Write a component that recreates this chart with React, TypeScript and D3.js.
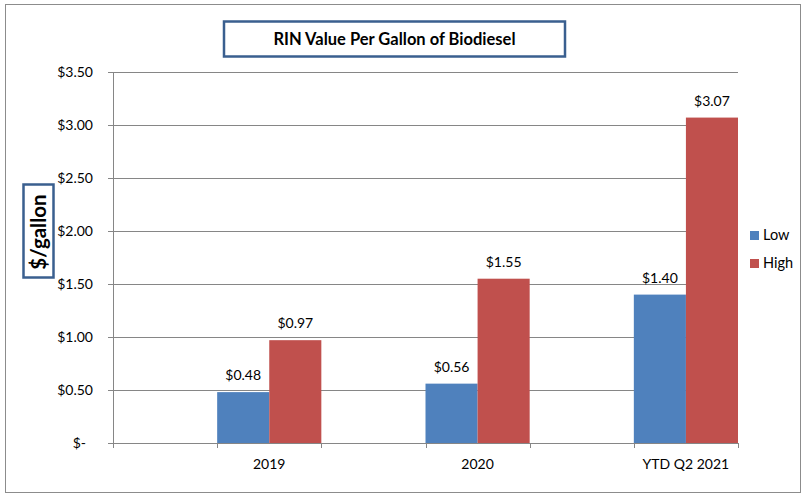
import React from "react";
import * as d3 from "d3";

const categories = ["", "2019", "", "2020", "", "YTD Q2 2021"];
const lowValues: (number | null)[] = [null, 0.48, null, 0.56, null, 1.4];
const highValues: (number | null)[] = [null, 0.97, null, 1.55, null, 3.07];
const yTicks = [0, 0.5, 1, 1.5, 2, 2.5, 3, 3.5];
const seriesNames = ["Low", "High"];
const seriesColors = ["#4f81bd", "#c0504d"];
const title = "RIN Value Per Gallon of Biodiesel";
const yTitle = "$/gallon";

const W = 805;
const H = 498;
const FONT = "Lato, 'Open Sans', sans-serif";

export default function App() {
  const left = 113;
  const right = 738;
  const top = 72;
  const bottom = 443;
  const idx = categories.map((_, i) => i);
  const x = d3.scaleBand<number>().domain(idx).range([left, right]).padding(0);
  const y = d3.scaleLinear().domain([0, 3.5]).range([bottom, top]);
  const bw = x.bandwidth() / 2;
  const fmt = (v: number) => (v === 0 ? "$-" : "$" + v.toFixed(2));
  const series = [lowValues, highValues];

  return (
    <svg width={W} height={H} style={{ position: "absolute", left: 0, top: 0 }} fontFamily={FONT}>
      <rect x={0} y={0} width={W} height={H} fill="#fff" />
      <rect x={5.5} y={4.5} width={795} height={488} fill="none" stroke="#8c8c8c" strokeWidth={1} />
      {/* title */}
      <rect x={224} y={21.5} width={341} height={35} fill="#fff" stroke="#3a5f8f" strokeWidth={2.5} />
      <text x={394.5} y={45} textAnchor="middle" fontSize={16.5} fontWeight="bold" fill="#000">
        {title}
      </text>
      {/* gridlines */}
      {yTicks.map((t) => (
        <g key={t}>
          <line x1={left - 5} x2={right} y1={Math.round(y(t)) + 0.5} y2={Math.round(y(t)) + 0.5} stroke="#868686" strokeWidth={1} />
          <text
            x={t === 0 ? 86 : 93}
            y={Math.round(y(t)) + 5}
            textAnchor="end"
            fontSize={14}
            fill="#000"
          >
            {fmt(t)}
          </text>
        </g>
      ))}
      {/* y axis */}
      <line x1={left + 0.5} x2={left + 0.5} y1={top} y2={bottom + 5} stroke="#868686" />
      {/* x ticks */}
      {idx.map((i) => (
        <line key={i} x1={Math.round((x(i) as number) + x.bandwidth()) + 0.5} x2={Math.round((x(i) as number) + x.bandwidth()) + 0.5} y1={bottom} y2={bottom + 5} stroke="#868686" />
      ))}
      {/* bars */}
      {series.map((vals, s) =>
        vals.map((v, i) =>
          v == null ? null : (
            <g key={s + "-" + i}>
              <rect
                x={(x(i) as number) + s * bw}
                y={y(v)}
                width={bw}
                height={bottom - y(v)}
                fill={seriesColors[s]}
              />
              <text
                x={(x(i) as number) + s * bw + bw / 2}
                y={y(v) - 12}
                textAnchor="middle"
                fontSize={14}
                fill="#000"
              >
                {fmt(v)}
              </text>
            </g>
          )
        )
      )}
      {/* x labels */}
      {categories.map((c, i) =>
        c ? (
          <text key={i} x={(x(i) as number) + x.bandwidth() / 2} y={469} textAnchor="middle" fontSize={14} fill="#000">
            {c}
          </text>
        ) : null
      )}
      {/* y title */}
      <rect x={23.5} y={184.5} width={30} height={93} fill="#fff" stroke="#3a5f8f" strokeWidth={2.5} />
      <text
        transform={`translate(45.5,232) rotate(-90)`}
        textAnchor="middle"
        fontSize={20.5}
        fontWeight="bold"
        fill="#000"
      >
        {yTitle}
      </text>
      {/* legend */}
      {seriesNames.map((n, s) => (
        <g key={n} transform={`translate(750,${231 + s * 28})`}>
          <rect x={0} y={0} width={9} height={9} fill={seriesColors[s]} />
          <text x={13} y={9} fontSize={14.5} fill="#000">
            {n}
          </text>
        </g>
      ))}
    </svg>
  );
}
